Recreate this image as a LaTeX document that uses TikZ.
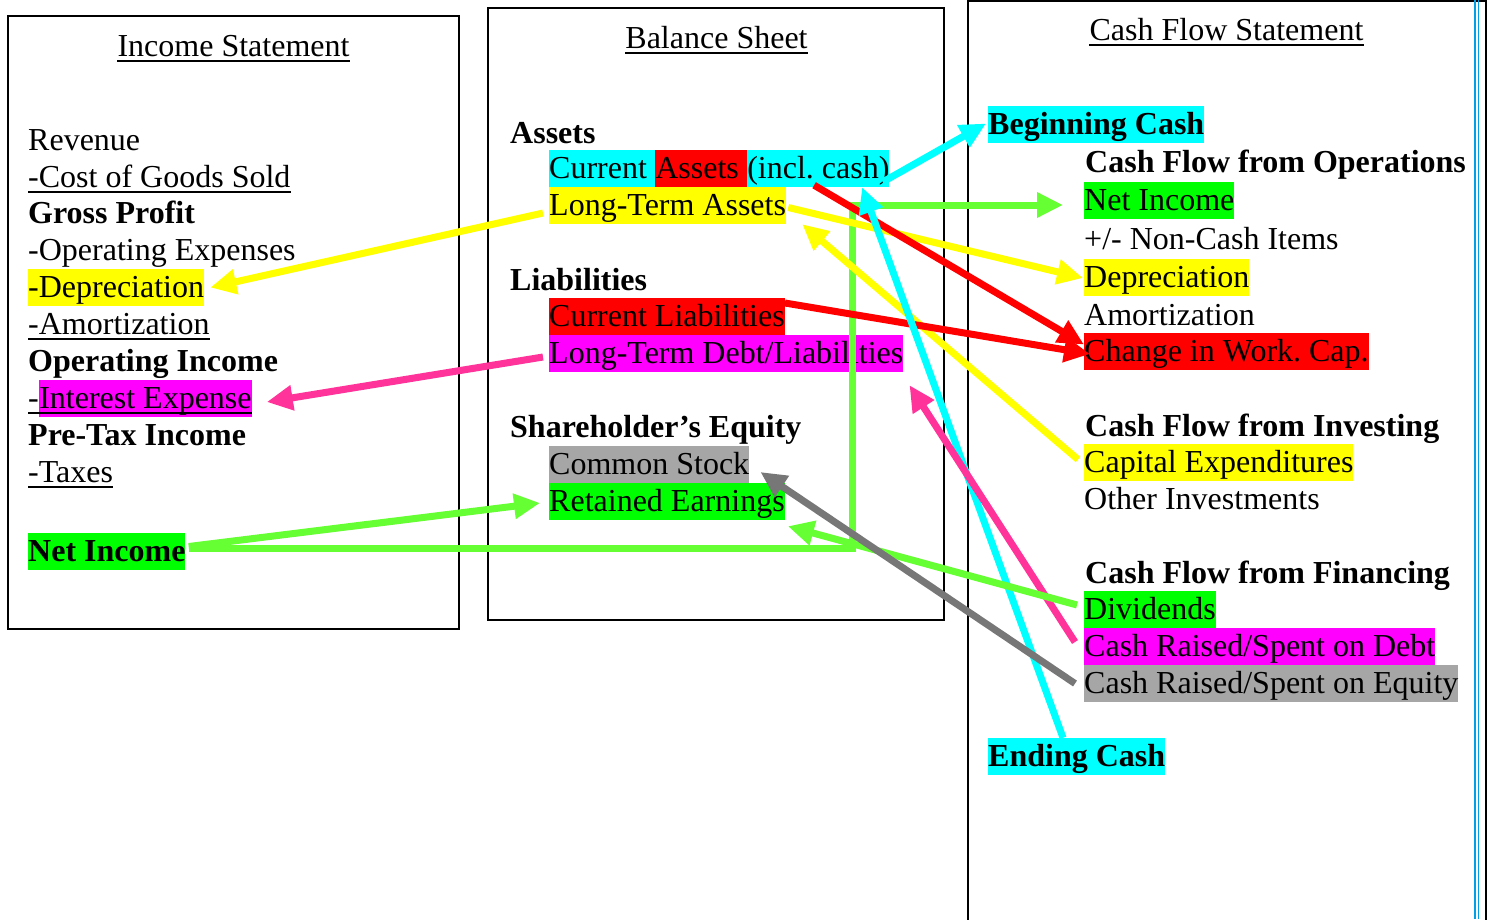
\documentclass[tikz,border=0pt]{standalone}
\usepackage{fontspec}
\setmainfont{Liberation Serif}
\usetikzlibrary{arrows.meta,calc}
\frenchspacing
\definecolor{hlcyan}{HTML}{00FFFF}
\definecolor{hlred}{HTML}{FF0000}
\definecolor{hlyellow}{HTML}{FFFF00}
\definecolor{hlmag}{HTML}{FF00FF}
\definecolor{hlgreen}{HTML}{00FF00}
\definecolor{hlgray}{HTML}{A6A6A6}
\definecolor{arwgreen}{HTML}{66FF33}
\definecolor{arwpink}{HTML}{FF3399}
\definecolor{arwgray}{HTML}{777777}
\definecolor{rulblue}{HTML}{00A0E6}
\begin{document}
\begin{tikzpicture}[x=1pt,y=-1pt,
  txt/.style={anchor=base west,inner sep=0pt,text height=28pt,text depth=9pt,font=\fontsize{32}{37}\selectfont\frenchspacing},
  bold/.style={txt,font=\fontsize{32}{37}\selectfont\bfseries\frenchspacing},
  arw/.style={line width=7pt,color=#1,-{Triangle[length=26pt,width=24pt]}},
  framebox/.style={draw=black,line width=2pt},
  ulline/.style={line width=2pt,draw=black}
]
\useasboundingbox (0,0) rectangle (1490,919);
% frames
\draw[framebox] (8,16) rectangle (459,629);
\draw[framebox] (488,8) rectangle (944,620);
\draw[framebox] (968,1) rectangle (1486,940);
\draw[rulblue,line width=1.5pt] (1475,0) -- (1475,919);
\draw[rulblue,line width=1.5pt] (1478.5,0) -- (1478.5,919);

% Income statement
\node[txt,anchor=base] (istitle) at (233.5,56) {Income Statement};
\node[txt] (isrev) at (28,150) {Revenue};
\node[txt] (iscogs) at (28,187) {-Cost of Goods Sold};
\node[bold] (isgp) at (28,223) {Gross Profit};
\node[txt] (isopex) at (28,260) {-Operating Expenses};
\node[txt,fill=hlyellow] (isdep) at (28,297) {-Depreciation};
\node[txt] (isam) at (28,334) {-Amortization};
\node[bold] (isoi) at (28,371) {Operating Income};
\node[txt] (isint1) at (28,408) {-};
\node[txt,fill=hlmag] (isint2) at (isint1.base east) {Interest Expense};
\node[bold] (ispt) at (28,445) {Pre-Tax Income};
\node[txt] (istax) at (28,482) {-Taxes};
\node[bold,fill=hlgreen] (isni) at (28,561) {Net Income};

% Balance sheet
\node[txt,anchor=base] (bstitle) at (716.5,48) {Balance Sheet};
\node[bold] (bsa) at (510,143) {Assets};
\node[txt,fill=hlcyan] (ca1) at (549,178) {Current\ \mbox{}};
\node[txt,fill=hlred] (ca2) at (ca1.base east) {Assets\ \mbox{}};
\node[txt,fill=hlcyan] (ca3) at (ca2.base east) {(incl.\ cash)};
\node[txt,fill=hlyellow] (bslta) at (549,215) {Long-Term Assets};
\node[bold] (bsl) at (510,290) {Liabilities};
\node[txt,fill=hlred] (bscl) at (549,326) {Current Liabilities};
\node[txt,fill=hlmag] (bsltd) at (549,363) {Long-Term Debt/Liabilities};
\node[bold] (bsse) at (510,437) {Shareholder’s Equity};
\node[txt,fill=hlgray] (bscs) at (549,474) {Common Stock};
\node[txt,fill=hlgreen] (bsre) at (549,511) {Retained Earnings};

% Cash flow statement
\node[txt,anchor=base] (cftitle) at (1226.5,40) {Cash Flow Statement};
\node[bold,fill=hlcyan] (cfbeg) at (988,134) {Beginning Cash};
\node[bold] (cfo) at (1085,172) {Cash Flow from Operations};
\node[txt,fill=hlgreen] (cfni) at (1084,210) {Net Income};
\node[txt] (cfnc) at (1084,249) {+/- Non-Cash Items};
\node[txt,fill=hlyellow] (cfdep) at (1084,287) {Depreciation};
\node[txt] (cfam) at (1084,325) {Amortization};
\node[txt,fill=hlred] (cfwc) at (1084,361) {Change in Work.\ Cap.};
\node[bold] (cfi) at (1085,436) {Cash Flow from Investing};
\node[txt,fill=hlyellow] (cfcx) at (1084,472) {Capital Expenditures};
\node[txt] (cfoi) at (1084,509) {Other Investments};
\node[bold] (cff) at (1085,583) {Cash Flow from Financing};
\node[txt,fill=hlgreen] (cfdiv) at (1084,619) {Dividends};
\node[txt,fill=hlmag] (cfdebt) at (1084,656) {Cash Raised/Spent on Debt};
\node[txt,fill=hlgray] (cfeq) at (1084,693) {Cash Raised/Spent on Equity};
\node[bold,fill=hlcyan] (cfend) at (988,766) {Ending Cash};

% underlines
\draw[ulline] ($(istitle.base west)+(0,5)$) -- ($(istitle.base east)+(0,5)$);
\draw[ulline] ($(bstitle.base west)+(0,5)$) -- ($(bstitle.base east)+(0,5)$);
\draw[ulline] ($(cftitle.base west)+(0,5)$) -- ($(cftitle.base east)+(0,5)$);
\draw[ulline] ($(iscogs.base west)+(0,5)$) -- ($(iscogs.base east)+(0,5)$);
\draw[ulline] ($(isam.base west)+(0,5)$) -- ($(isam.base east)+(0,5)$);
\draw[ulline] ($(isint1.base west)+(0,5)$) -- ($(isint2.base east)+(0,5)$);
\draw[ulline] ($(istax.base west)+(0,5)$) -- ($(istax.base east)+(0,5)$);

% arrows
\draw[arw=hlyellow] ($(bslta.west)+(-6,7.5)$) -- ($(isdep.east)+(6,0)$);
\draw[arw=arwpink] ($(bsltd.west)+(-6,3.5)$) -- ($(isint2.east)+(15,3.5)$);
\draw[arw=arwgreen] ($(isni.east)+(3,-5)$) -- ($(bsre.west)+(-9,1.5)$);
\draw[arw=arwgreen] ($(isni.east)+(3,-3.5)$) -| ($(cfni.west)+(-232,4.5)$) -- ($(cfni.west)+(-21,4.5)$);
\draw[arw=hlyellow] ($(bslta.east)+(2,2)$) -- ($(cfdep.west)+(-1,0.5)$);
\draw[arw=hlyellow] ($(cfcx.west)+(-6,-3)$) -- ($(bslta.south east)+(16,0)$);
\draw[arw=hlred] ($(ca3.south west)+(67,-2)$) -- ($(cfwc.west)+(0,-7)$);
\draw[arw=hlred] ($(bscl.east)+(0,-13.5)$) -- ($(cfwc.west)+(6,2.5)$);
\draw[arw=hlcyan] ($(ca3.east)+(-7,13.5)$) -- ($(cfbeg.west)+(-2,-1)$);
\draw[arw=hlcyan] ($(cfend.north west)+(75,0)$) -- ($(ca3.south west)+(115,0)$);
\draw[arw=arwpink] ($(cfdebt.west)+(-9,-4.5)$) -- ($(bsltd.south east)+(6,13)$);
\draw[arw=arwgreen] ($(cfdiv.west)+(-7,-4.5)$) -- ($(bsre.south east)+(3,6)$);
\draw[arw=arwgray] ($(cfeq.west)+(-9,0)$) -- ($(bscs.east)+(11,7.5)$);
\end{tikzpicture}
\end{document}
